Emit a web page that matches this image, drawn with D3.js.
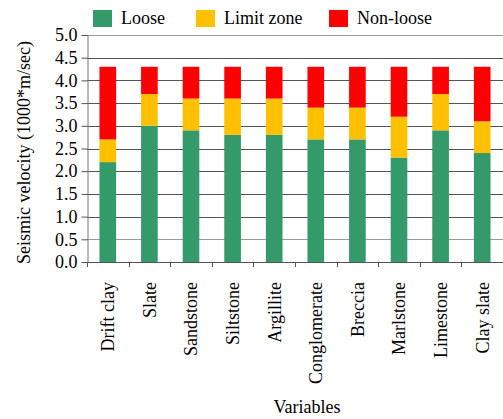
<!DOCTYPE html>
<html>
<head>
<meta charset="utf-8">
<script src="https://cdn.jsdelivr.net/npm/d3@7"></script>
<style>
  body { margin: 0; background: #fff; }
  svg { display: block; font-family: "Liberation Serif", "Times New Roman", serif; }
</style>
</head>
<body>
<div id="container"></div>
<script>
/* DATA */
const categories = ["Drift clay", "Slate", "Sandstone", "Siltstone", "Argillite",
  "Conglomerate", "Breccia", "Marlstone", "Limestone", "Clay slate"];
// upper bound of each zone (1000*m/sec)
const looseTop = [2.2, 3.0, 2.9, 2.8, 2.8, 2.7, 2.7, 2.3, 2.9, 2.4];
const limitTop = [2.7, 3.7, 3.6, 3.6, 3.6, 3.4, 3.4, 3.2, 3.7, 3.1];
const nonLooseTop = [4.3, 4.3, 4.3, 4.3, 4.3, 4.3, 4.3, 4.3, 4.3, 4.3];
const seriesNames = ["Loose", "Limit zone", "Non-loose"];
const yTicks = [0, 0.5, 1, 1.5, 2, 2.5, 3, 3.5, 4, 4.5, 5];

/* CONSTANTS */
const width = 503,
  height = 419,
  margin = ({top: 35, right: 0, bottom: 157, left: 87});
const colors = ["#359a69", "#ffc000", "#ff0000"];

// segments: [bottom, top] for each series
const rows = categories.map((c, i) => ({
  name: c,
  segs: [[0, looseTop[i]], [looseTop[i], limitTop[i]], [limitTop[i], nonLooseTop[i]]]
}));

const svg = d3.select("#container")
  .append("svg")
  .attr("width", width)
  .attr("height", height);

const x = d3.scaleBand()
  .domain(categories)
  .range([margin.left, width - margin.right])
  .paddingInner(0.6)
  .paddingOuter(0.3);

const y = d3.scaleLinear()
  .domain([0, 5])
  .range([height - margin.bottom, margin.top]);

// gridlines
svg.append("g")
  .selectAll("line")
  .data(yTicks)
  .join("line")
  .attr("x1", margin.left)
  .attr("x2", width - margin.right)
  .attr("y1", d => Math.round(y(d)) + 0.5)
  .attr("y2", d => Math.round(y(d)) + 0.5)
  .attr("stroke", d => (d === 0.5 || d === 5) ? "#999" : "#555")
  .attr("stroke-width", 1);

// bars
svg.append("g")
  .selectAll("g")
  .data(rows)
  .join("g")
  .selectAll("rect")
  .data(d => d.segs.map((s, k) => ({name: d.name, s, k})))
  .join("rect")
  .attr("x", d => x(d.name))
  .attr("width", x.bandwidth())
  .attr("y", d => y(d.s[1]))
  .attr("height", d => y(d.s[0]) - y(d.s[1]))
  .attr("fill", d => colors[d.k]);

// y axis
const yAxis = svg.append("g")
  .attr("transform", `translate(${margin.left + 0.5},0)`)
  .call(d3.axisLeft(y).tickValues(yTicks).tickFormat(d3.format(".1f")).tickSize(6).tickSizeOuter(0));
yAxis.select(".domain").attr("stroke", "#777");
yAxis.selectAll(".tick line").attr("stroke", "#555");
yAxis.selectAll(".tick text")
  .attr("font-family", "'Liberation Serif', 'Times New Roman', serif")
  .attr("font-size", 18)
  .attr("fill", "#000")
  .attr("x", -10);

// x axis line and ticks at band boundaries
const step = x.step();
const gap = (step - x.bandwidth()) / 2;
const bounds = categories.map(c => x(c) - gap).concat([x(categories[categories.length - 1]) + x.bandwidth() + gap]);
const xg = svg.append("g");
xg.selectAll("line.tick")
  .data(bounds)
  .join("line")
  .attr("class", "tick")
  .attr("x1", d => Math.round(d) + 0.5)
  .attr("x2", d => Math.round(d) + 0.5)
  .attr("y1", y(0))
  .attr("y2", y(0) + 5)
  .attr("stroke", "#555");

xg.selectAll("text")
  .data(categories)
  .join("text")
  .attr("transform", d => `translate(${x(d) + x.bandwidth() / 2},${y(0) + 20}) rotate(-90)`)
  .attr("text-anchor", "end")
  .attr("dy", "0.35em")
  .attr("font-size", 18)
  .text(d => d);

// axis titles
svg.append("text")
  .attr("transform", `translate(24,${(y(0) + y(5)) / 2 + 4}) rotate(-90)`)
  .attr("text-anchor", "middle")
  .attr("dy", "0.35em")
  .attr("font-size", 18)
  .text("Seismic velocity (1000*m/sec)");

svg.append("text")
  .attr("x", 307)
  .attr("y", 413)
  .attr("text-anchor", "middle")
  .attr("font-size", 18)
  .text("Variables");

// legend
const legendX = [93, 196, 329];
const legend = svg.append("g")
  .selectAll("g")
  .data(seriesNames)
  .join("g")
  .attr("transform", (d, i) => `translate(${legendX[i]},10)`);
legend.append("rect")
  .attr("width", 19)
  .attr("height", 17)
  .attr("fill", (d, i) => colors[i]);
legend.append("text")
  .attr("x", 28)
  .attr("y", 14)
  .attr("font-size", 18)
  .text(d => d);
</script>
</body>
</html>
